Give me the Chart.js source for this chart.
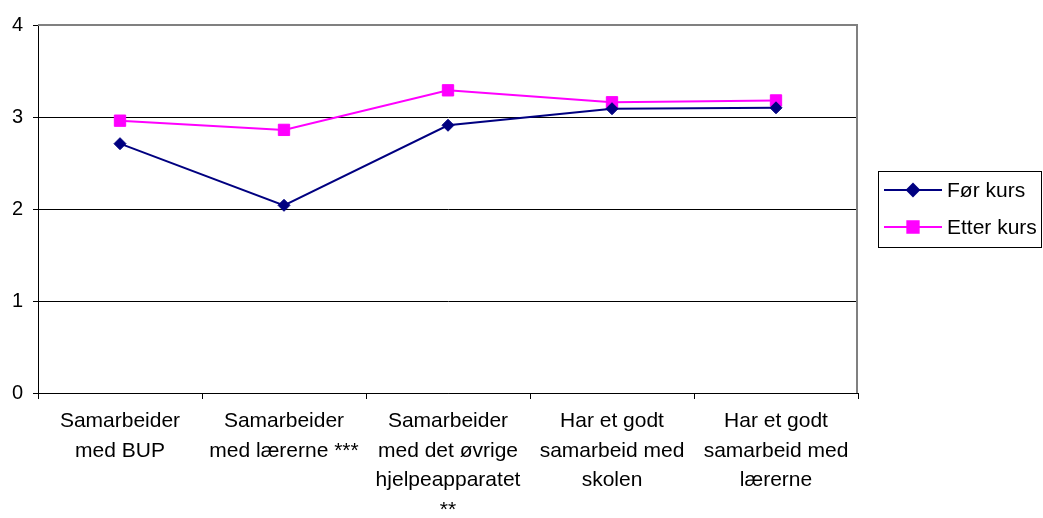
<!DOCTYPE html>
<html>
<head>
<meta charset="utf-8">
<script src="https://cdn.jsdelivr.net/npm/chart.js@4/dist/chart.umd.min.js"></script>
<style>
  html, body { margin: 0; padding: 0; background: #fff; }
  #wrap { width: 1043px; height: 518px; }
</style>
</head>
<body>
<div id="wrap"><canvas id="graf" width="1043" height="518"></canvas></div>
<script>
// kategorier (linjeskift som i originalen)
const kategorier = [
  ["Samarbeider", "med BUP"],
  ["Samarbeider", "med lærerne ***"],
  ["Samarbeider", "med det øvrige", "hjelpeapparatet", "**"],
  ["Har et godt", "samarbeid med", "skolen"],
  ["Har et godt", "samarbeid med", "lærerne"]
];
const serieNavn = ["Før kurs", "Etter kurs"];
const forKurs = [2.71, 2.04, 2.91, 3.09, 3.10];
const etterKurs = [2.96, 2.86, 3.29, 3.16, 3.18];
const yTicks = [0, 1, 2, 3, 4];

const FONT = "'Liberation Sans', Arial, sans-serif";

// tegner ramme (topp/høyre) og egen legende med boks
const rammeOgLegende = {
  id: "rammeOgLegende",
  beforeDatasetsDraw(chart) {
    const { ctx, chartArea: a } = chart;
    ctx.save();
    ctx.strokeStyle = "#808080";
    ctx.lineWidth = 2;
    ctx.beginPath();
    ctx.moveTo(a.left, a.top);
    ctx.lineTo(a.right - 1, a.top);
    ctx.lineTo(a.right - 1, a.bottom);
    ctx.stroke();
    ctx.restore();
  },
  afterDraw(chart) {
    const ctx = chart.ctx;
    const bx = 878, by = 171, bw = 163, bh = 76;
    ctx.save();
    ctx.strokeStyle = "#000";
    ctx.lineWidth = 1;
    ctx.strokeRect(bx + 0.5, by + 0.5, bw, bh);
    const rader = [190, 227];
    chart.data.datasets.forEach((ds, i) => {
      const y = rader[i];
      ctx.strokeStyle = ds.borderColor;
      ctx.lineWidth = 2;
      ctx.beginPath();
      ctx.moveTo(884, y);
      ctx.lineTo(942, y);
      ctx.stroke();
      ctx.fillStyle = ds.pointBackgroundColor;
      ctx.strokeStyle = ds.pointBorderColor;
      Chart.helpers.drawPoint(ctx, {
        pointStyle: ds.pointStyle,
        radius: ds.pointRadius,
        borderWidth: 1,
        rotation: 0
      }, 913, y);
      ctx.fillStyle = "#000";
      ctx.font = "21px " + FONT;
      ctx.textBaseline = "middle";
      ctx.textAlign = "left";
      ctx.fillText(ds.label, 947, y + 1);
    });
    ctx.restore();
  }
};

new Chart(document.getElementById("graf"), {
  type: "line",
  data: {
    labels: kategorier,
    datasets: [
      {
        label: serieNavn[0],
        data: forKurs,
        borderColor: "#000080",
        backgroundColor: "#000080",
        pointBackgroundColor: "#000080",
        pointBorderColor: "#000080",
        pointStyle: "rectRot",
        pointRadius: 6,
        pointBorderWidth: 1,
        borderWidth: 2,
        tension: 0
      },
      {
        label: serieNavn[1],
        data: etterKurs,
        borderColor: "#FF00FF",
        backgroundColor: "#FF00FF",
        pointBackgroundColor: "#FF00FF",
        pointBorderColor: "#FF00FF",
        pointStyle: "rect",
        pointRadius: 8,
        pointBorderWidth: 1,
        borderWidth: 2,
        tension: 0
      }
    ]
  },
  options: {
    responsive: false,
    animation: false,
    layout: { padding: { left: 0, right: 185, top: 25, bottom: 0 } },
    plugins: {
      legend: { display: false },
      tooltip: { enabled: false }
    },
    scales: {
      x: {
        offset: true,
        grid: {
          offset: true,
          drawOnChartArea: false,
          drawTicks: true,
          tickLength: 6,
          color: "#000"
        },
        border: { color: "#000", width: 1 },
        ticks: {
          color: "#000",
          font: { family: FONT, size: 21, lineHeight: 1.42 },
          padding: 7,
          maxRotation: 0,
          autoSkip: false
        },
        afterFit(s) { s.height = 125; }
      },
      y: {
        min: yTicks[0],
        max: yTicks[yTicks.length - 1],
        afterBuildTicks(s) { s.ticks = yTicks.map(v => ({ value: v })); },
        grid: {
          color: c => (c.tick && c.tick.value === 4 ? "rgba(0,0,0,0)" : "#000"),
          tickColor: "#000",
          drawTicks: true,
          tickLength: 5,
          lineWidth: 1
        },
        border: { color: "#000", width: 1 },
        ticks: {
          color: "#000",
          font: { family: FONT, size: 20 },
          padding: 10
        },
        afterFit(s) { s.width = 38; }
      }
    }
  },
  plugins: [rammeOgLegende]
});
</script>
</body>
</html>
